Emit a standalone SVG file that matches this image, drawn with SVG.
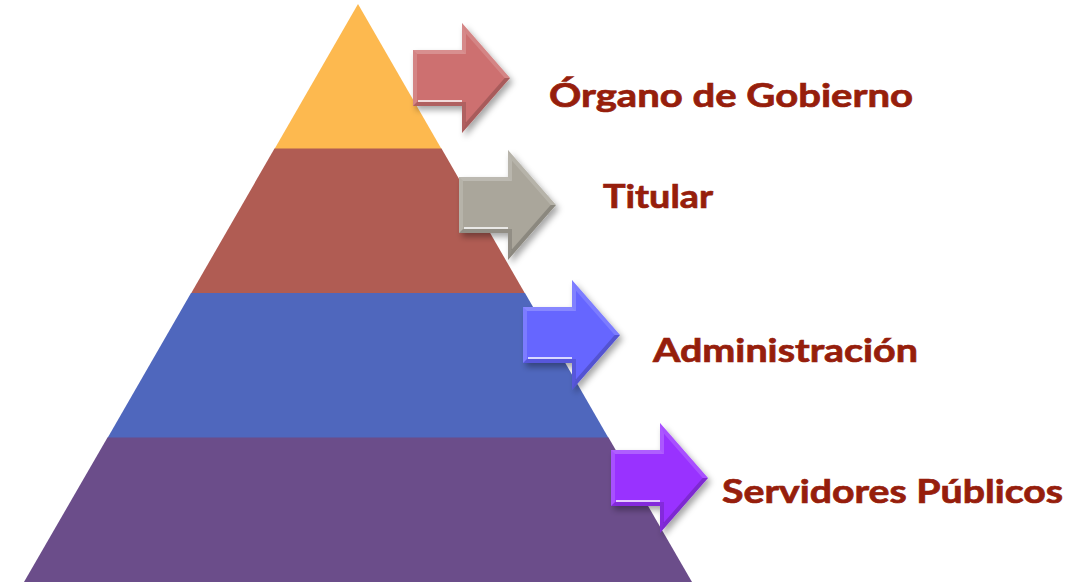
<svg xmlns="http://www.w3.org/2000/svg" xmlns:xlink="http://www.w3.org/1999/xlink" width="1076" height="582" viewBox="0 0 1076 582">
<defs>
  <style>
    .lbl { font-family: "Lato", "Liberation Sans", sans-serif; font-weight: 700; font-size: 32px; fill: #961E0C; stroke: #961E0C; stroke-width: 0.7px; }
    .light { fill: #ffffff; }
    .dark { fill: #000000; }
  </style>
  <filter id="shadow" x="-20%" y="-20%" width="150%" height="150%">
    <feDropShadow dx="3" dy="4" stdDeviation="3" flood-color="#000" flood-opacity="0.35"/>
  </filter>
  <g id="arrow">
    <path d="M0,-28 H49 V-55 L97,0 L49,55 V28 H0 Z" fill="currentColor" filter="url(#shadow)"/>
    <polygon class="light" opacity="0.22" points="0,-28 49,-28 53,-24 4,-24"/>
    <polygon class="light" opacity="0.18" points="49,-28 49,-55 53,-44.3 53,-24"/>
    <polygon class="light" opacity="0.15" points="49,-55 97,0 91.7,0 53,-44.3"/>
    <polygon class="dark" opacity="0.18" points="97,0 49,55 53,44.3 91.7,0"/>
    <polygon class="dark" opacity="0.14" points="49,55 49,28 53,24 53,44.3"/>
    <polygon class="dark" opacity="0.14" points="49,28 0,28 4,24 53,24"/>
    <polygon class="light" opacity="0.15" points="0,28 0,-28 4,-24 4,24"/>
    <line x1="5" y1="23" x2="49" y2="23" stroke="#ffffff" stroke-width="2" opacity="0.75"/>
  </g>
</defs>
<rect width="1076" height="582" fill="#ffffff"/>
<g id="pyramid">
  <polygon id="layer1" points="358,4 441.5,149 274.5,149" fill="#FDB94F"/>
  <polygon id="layer2" points="274.5,148.5 441.5,148.5 525,293.5 191,293.5" fill="#B05C53"/>
  <polygon id="layer3" points="191,293 525,293 608.5,438 107.5,438" fill="#4F67BD"/>
  <polygon id="layer4" points="107.5,437.5 608.5,437.5 692,582 24,582" fill="#6B4D8A"/>
</g>
<g id="connectors">
  <use xlink:href="#arrow" transform="translate(413,78)" style="color:#CD7070"/>
  <use xlink:href="#arrow" transform="translate(459,205)" style="color:#AAA69B"/>
  <use xlink:href="#arrow" transform="translate(523,335)" style="color:#6666FF"/>
  <use xlink:href="#arrow" transform="translate(611,478)" style="color:#9933FF"/>
</g>
<g id="node1"><text class="lbl" x="549" y="107" textLength="364" lengthAdjust="spacingAndGlyphs">Órgano de Gobierno</text></g>
<g id="node2"><text class="lbl" x="603" y="208" textLength="110" lengthAdjust="spacingAndGlyphs">Titular</text></g>
<g id="node3"><text class="lbl" x="653" y="362" textLength="265" lengthAdjust="spacingAndGlyphs">Administración</text></g>
<g id="node4"><text class="lbl" x="722" y="503" textLength="341" lengthAdjust="spacingAndGlyphs">Servidores Públicos</text></g>
</svg>
